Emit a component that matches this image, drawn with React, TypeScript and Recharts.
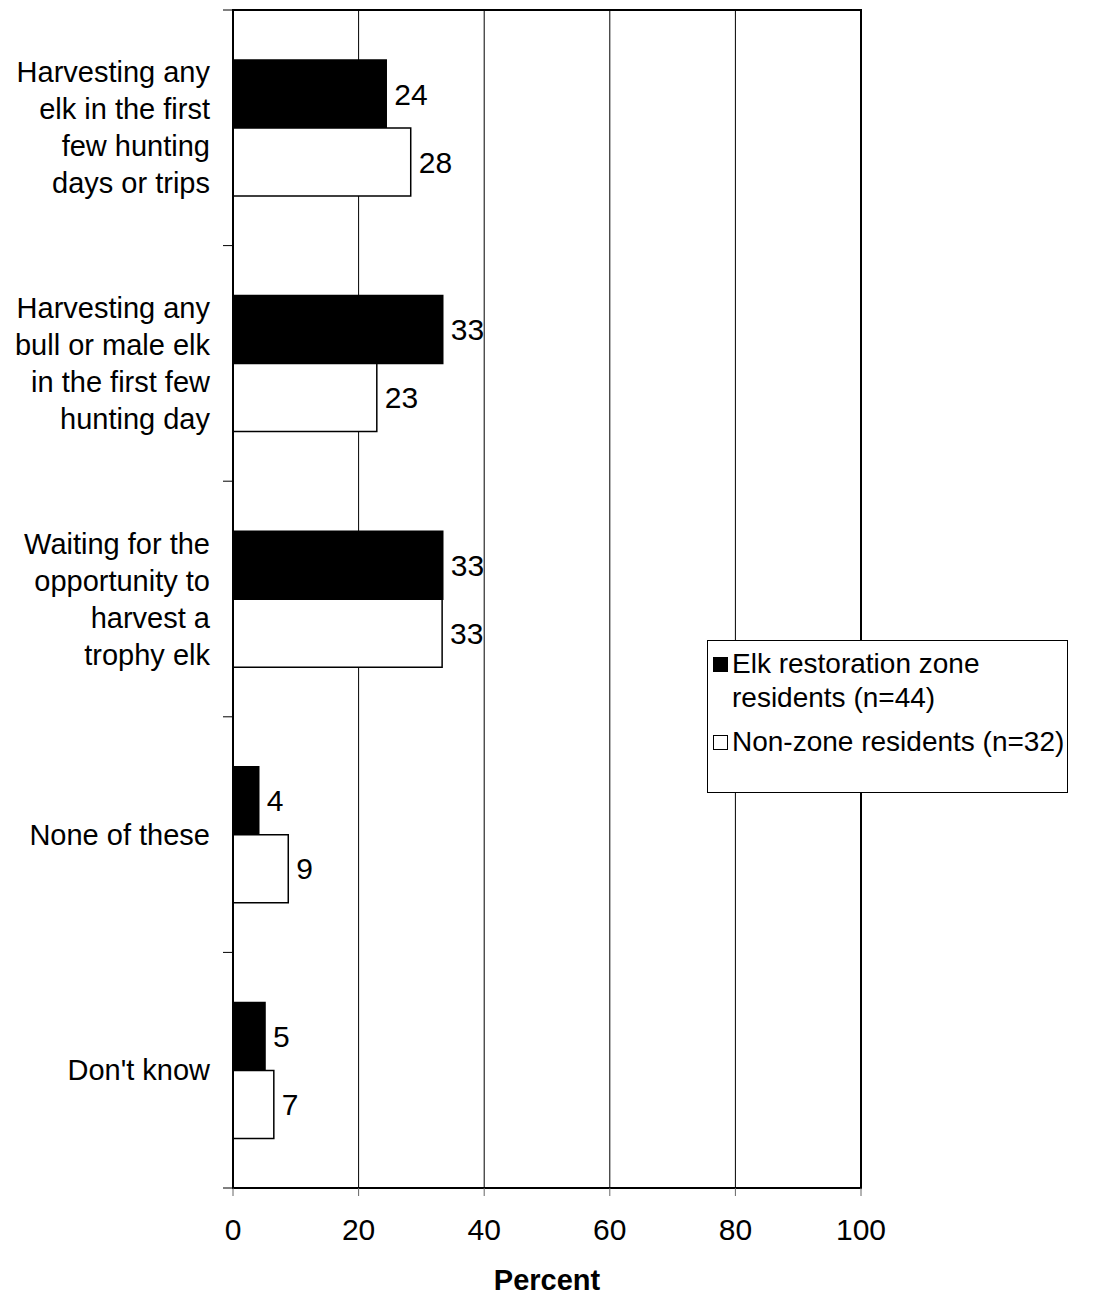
import React from 'react'
import {
  BarChart,
  Bar,
  XAxis,
  YAxis,
  CartesianGrid,
  LabelList,
  Legend,
  ReferenceArea,
} from 'recharts'

// category labels, one array of lines per category
const categoryLines: string[][] = [
  ['Harvesting any', 'elk in the first', 'few hunting', 'days or trips'],
  ['Harvesting any', 'bull or male elk', 'in the first few', 'hunting day'],
  ['Waiting for the', 'opportunity to', 'harvest a', 'trophy elk'],
  ['None of these'],
  ["Don't know"],
]

const zoneResidents = [24.4, 33.4, 33.4, 4.1, 5.1]
const nonZoneResidents = [28.3, 22.9, 33.3, 8.8, 6.5]

const xTicks = [0, 20, 40, 60, 80, 100]

const seriesNames = {
  zone: 'Elk restoration zone residents (n=44)',
  nonZone: 'Non-zone residents (n=32)',
}

const data = categoryLines.map((lines, i) => ({
  name: lines.join(' '),
  zone: zoneResidents[i],
  nonZone: nonZoneResidents[i],
}))

const FONT = '"Liberation Sans", Arial, sans-serif'
const W = 1107
const H = 1296
const MARGIN = { top: 10, right: 246, bottom: 0, left: 0 }
const X_AXIS_H = 108
const PLOT_H = H - MARGIN.top - MARGIN.bottom - X_AXIS_H
const BAND = PLOT_H / categoryLines.length
const LINE_H = 37

function CategoryTick(props: any) {
  const { x, y, payload, index } = props
  const lines = categoryLines[index] || [String(payload.value)]
  const startDy = -((lines.length - 1) / 2) * LINE_H
  const isLast = index === categoryLines.length - 1
  return (
    <g>
      <line x1={x - 10} x2={x} y1={y - BAND / 2} y2={y - BAND / 2} stroke="#000" strokeWidth={1} />
      {isLast && (
        <line x1={x - 10} x2={x} y1={y + BAND / 2} y2={y + BAND / 2} stroke="#000" strokeWidth={1} />
      )}
      <text x={x - 23} y={y} textAnchor="end" fontSize={29} fontFamily={FONT} fill="#000">
        {lines.map((l, i) => (
          <tspan key={i} x={x - 23} dy={i === 0 ? startDy + 10 : LINE_H}>
            {l}
          </tspan>
        ))}
      </text>
    </g>
  )
}

function LegendBox(props: any) {
  const payload = props.payload || []
  return (
    <div
      style={{
        width: 361,
        height: 153,
        boxSizing: 'border-box',
        border: '1px solid #000',
        background: '#fff',
        padding: '6px 0 0 5px',
        fontFamily: FONT,
        fontSize: 28,
        lineHeight: '34px',
        color: '#000',
        textAlign: 'left',
      }}
    >
      {payload.map((p: any) => (
        <div key={p.value} style={{ display: 'flex', alignItems: 'flex-start', marginBottom: 10 }}>
          <span
            style={{
              display: 'inline-block',
              width: 15,
              height: 15,
              marginTop: 10,
              marginRight: 4,
              flex: '0 0 auto',
              boxSizing: 'border-box',
              border: '1px solid #000',
              background: p.dataKey === 'zone' ? '#000' : '#fff',
            }}
          />
          <span style={{ width: 334 }}>{p.value}</span>
        </div>
      ))}
    </div>
  )
}

export default function App() {
  return (
    <div style={{ position: 'absolute', left: 0, top: 0, width: W, height: H, background: '#fff' }}>
      <BarChart
        width={W}
        height={H}
        data={data}
        layout="vertical"
        margin={MARGIN}
        barCategoryGap={50}
        barGap={0}
      >
        <CartesianGrid horizontal={false} vertical stroke="#000" strokeWidth={1} />
        <ReferenceArea x1={0} x2={100} fill="none" stroke="#000" strokeWidth={2} ifOverflow="visible" />
        <XAxis
          type="number"
          domain={[0, 100]}
          ticks={xTicks}
          height={X_AXIS_H}
          tickSize={8}
          tickMargin={23}
          tickLine={{ stroke: '#666', strokeWidth: 1 }}
          axisLine={{ stroke: '#000', strokeWidth: 2 }}
          tick={{ fill: '#000', fontSize: 30, fontFamily: FONT }}
          label={{
            value: 'Percent',
            position: 'insideBottom',
            offset: 6,
            fill: '#000',
            fontSize: 29,
            fontWeight: 'bold',
            fontFamily: FONT,
          }}
        />
        <YAxis
          type="category"
          dataKey="name"
          width={233}
          tickSize={0}
          tickMargin={0}
          tickLine={false}
          axisLine={{ stroke: '#000', strokeWidth: 2 }}
          tick={<CategoryTick />}
          interval={0}
        />
        <Legend
          layout="vertical"
          align="center"
          verticalAlign="middle"
          content={<LegendBox />}
          wrapperStyle={{ position: 'absolute', left: 707, top: 640, width: 361, height: 153 }}
        />
        <Bar
          dataKey="zone"
          name={seriesNames.zone}
          fill="#000"
          stroke="#000"
          strokeWidth={1.5}
          isAnimationActive={false}
        >
          <LabelList
            dataKey="zone"
            position="right"
            offset={8}
            formatter={(v: any) => Math.round(Number(v))}
            style={{ fill: '#000', fontSize: 30, fontFamily: FONT }}
          />
        </Bar>
        <Bar
          dataKey="nonZone"
          name={seriesNames.nonZone}
          fill="#fff"
          stroke="#000"
          strokeWidth={1.5}
          isAnimationActive={false}
        >
          <LabelList
            dataKey="nonZone"
            position="right"
            offset={8}
            formatter={(v: any) => Math.round(Number(v))}
            style={{ fill: '#000', fontSize: 30, fontFamily: FONT }}
          />
        </Bar>
      </BarChart>
    </div>
  )
}
